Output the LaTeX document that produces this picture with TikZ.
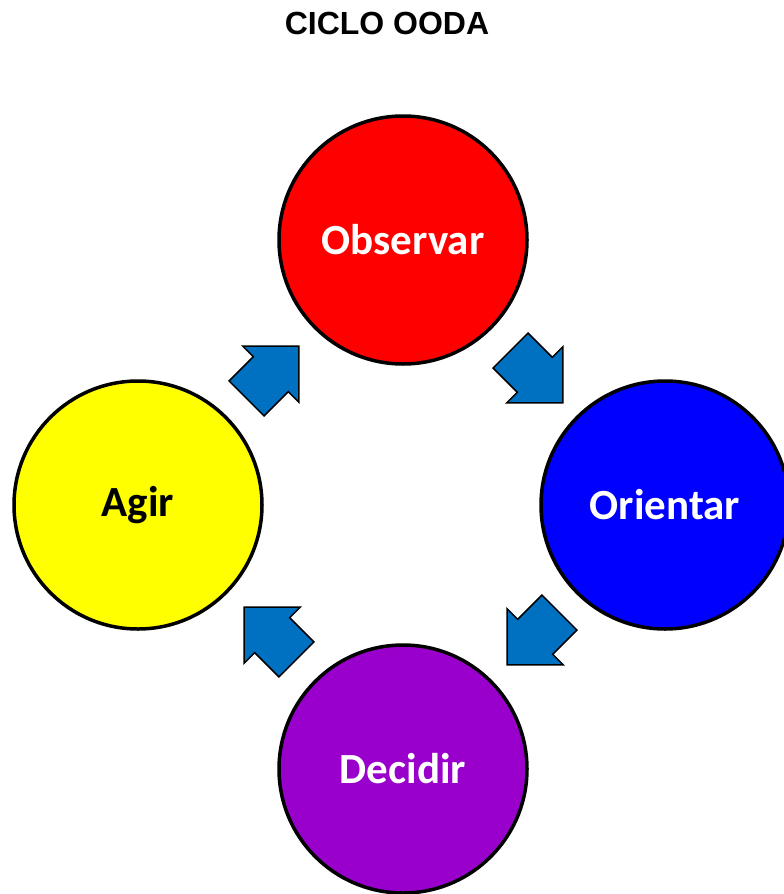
\documentclass[tikz,border=0pt]{standalone}
\usepackage{fontspec}
\setmainfont{Carlito}
\newfontfamily\titlefont{Liberation Sans}
\usetikzlibrary{shapes.arrows}

\definecolor{obsred}{RGB}{255,0,0}
\definecolor{oriblue}{RGB}{0,0,255}
\definecolor{decpurple}{RGB}{153,0,204}
\definecolor{agiyellow}{RGB}{255,255,0}
\definecolor{arrowblue}{RGB}{0,112,192}

\tikzset{
  phase/.style={circle, draw=black, line width=3.5pt, minimum size=248pt, inner sep=0pt,
    font=\fontsize{43}{50}\selectfont\bfseries},
  flow/.style={single arrow, draw=black, line width=1.5pt, fill=arrowblue, inner sep=0pt,
    text width=0pt, text height=24pt, text depth=24pt,
    minimum height=74pt, single arrow head extend=15pt}
}

\begin{document}
\begin{tikzpicture}[x=1pt, y=-1pt]
	\useasboundingbox (0,0) rectangle (784,894);
	\node (T) at (387,23) {\titlefont\fontsize{32}{36}\selectfont\bfseries CICLO OODA};
	\node[phase, fill=obsred, text=white] (O) at (403,240) {Observar};
	\node[phase, fill=oriblue, text=white] (R) at (665,505) {Orientar};
	\node[phase, fill=decpurple, text=white] (D) at (403,769) {Decidir};
	\node[phase, fill=agiyellow, text=black] (A) at (138,505) {Agir};
	\node[flow, rotate=-45] (OR) at (528,368) {};
	\node[flow, rotate=-135] (RD) at (542,630) {};
	\node[flow, rotate=135] (DA) at (279,642) {};
	\node[flow, rotate=45] (AO) at (264,381) {};
\end{tikzpicture}
\end{document}
